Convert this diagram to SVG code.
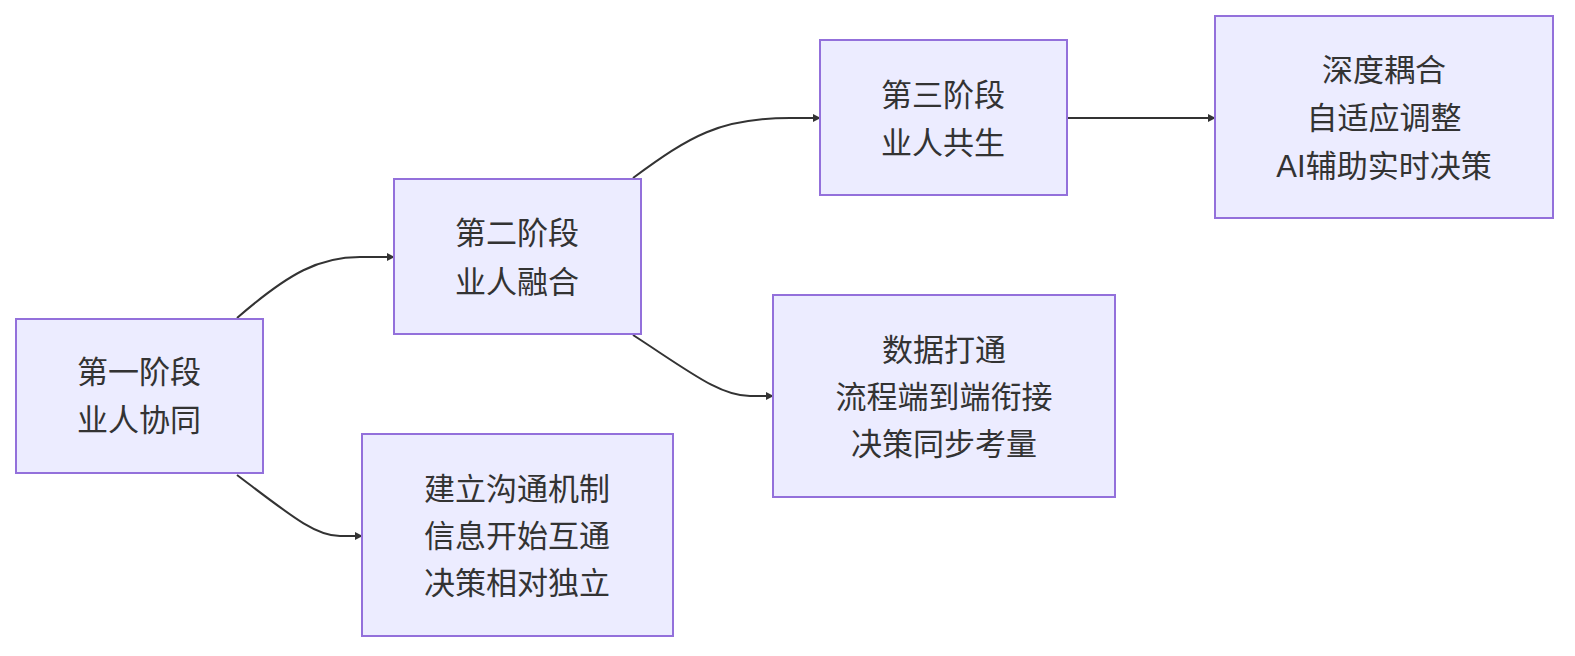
<svg xmlns="http://www.w3.org/2000/svg" width="1575" height="656" viewBox="0 0 1575 656">
<style>
.n{fill:#ececff;stroke:#9370db;stroke-width:2}
.t{font-family:"Liberation Sans","Noto Sans CJK SC",sans-serif;font-size:31px;fill:#333;text-anchor:middle;dominant-baseline:central}
.e{fill:none;stroke:#333;stroke-width:2;marker-end:url(#a)}
</style>
<defs><marker id="a" viewBox="0 0 10 10" refX="9" refY="5" markerWidth="8" markerHeight="8" markerUnits="userSpaceOnUse" orient="auto"><path d="M0,0L10,5L0,10z" fill="#333"/></marker></defs>
<rect width="1575" height="656" fill="#fff"/>
<g id="edges">
<path class="e" d="M237,318 C290,272 320,257 360,257 L394,257"/>
<path class="e" d="M237,475 C290,515 315,536 340,536 L362,536"/>
<path class="e" d="M633,178 C690,136 720,118 790,118 L820,118"/>
<path class="e" d="M633,335 C690,372 720,396 750,396 L773,396"/>
<path class="e" d="M1068,118 L1215,118"/>
</g>
<g id="n1"><rect class="n" x="16" y="319" width="247" height="154"/><text class="t" x="139" y="372">第一阶段</text><text class="t" x="139" y="420">业人协同</text></g>
<g id="n2"><rect class="n" x="394" y="179" width="247" height="155"/><text class="t" x="517" y="233">第二阶段</text><text class="t" x="517" y="282">业人融合</text></g>
<g id="n3"><rect class="n" x="820" y="40" width="247" height="155"/><text class="t" x="943" y="95">第三阶段</text><text class="t" x="943" y="143">业人共生</text></g>
<g id="n4"><rect class="n" x="1215" y="16" width="338" height="202"/><text class="t" x="1384" y="70">深度耦合</text><text class="t" x="1384" y="118">自适应调整</text><text class="t" x="1384" y="166">AI辅助实时决策</text></g>
<g id="n5"><rect class="n" x="773" y="295" width="342" height="202"/><text class="t" x="944" y="350">数据打通</text><text class="t" x="944" y="397">流程端到端衔接</text><text class="t" x="944" y="444">决策同步考量</text></g>
<g id="n6"><rect class="n" x="362" y="434" width="311" height="202"/><text class="t" x="517" y="489">建立沟通机制</text><text class="t" x="517" y="536">信息开始互通</text><text class="t" x="517" y="583">决策相对独立</text></g>
</svg>
